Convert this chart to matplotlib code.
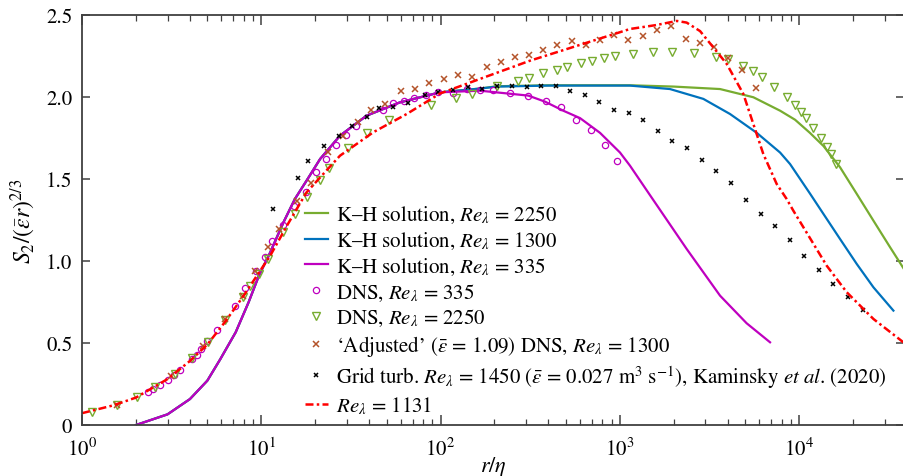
import matplotlib
matplotlib.use('Agg')
import matplotlib.pyplot as plt
from matplotlib.ticker import LogLocator, FuncFormatter, NullFormatter

plt.rcParams['font.family'] = 'STIXGeneral'
plt.rcParams['mathtext.fontset'] = 'stix'

# K-H solutions (shared low-r part)
kh_low_r = [2, 3, 4, 5, 5.9, 7.2, 8.5, 9.7, 11.2, 13.3, 15.4, 17.9, 21.3, 27.5, 38.7, 59.4, 99.4]
kh_low_s = [0.0, 0.065, 0.158, 0.27, 0.40, 0.565, 0.748, 0.91, 1.05, 1.235, 1.377, 1.489, 1.621, 1.763, 1.885, 1.966, 2.027]

kh2250_r = kh_low_r + [166, 206, 400, 1140, 2000, 3625, 5560, 7840, 9500, 11500, 13680, 16940, 20990, 26000, 32200, 38500]
kh2250_s = kh_low_s + [2.05, 2.064, 2.07, 2.07, 2.062, 2.047, 1.997, 1.915, 1.86, 1.78, 1.70, 1.57, 1.408, 1.245, 1.083, 0.95]

kh1300_r = kh_low_r + [166, 206, 400, 1140, 1906, 2925, 4120, 5810, 7840, 8910, 11510, 13680, 16940, 20990, 26000, 33600]
kh1300_s = kh_low_s + [2.05, 2.062, 2.068, 2.068, 2.047, 1.987, 1.895, 1.78, 1.66, 1.59, 1.41, 1.286, 1.133, 0.981, 0.839, 0.697]

kh335_r = kh_low_r + [166, 309, 383, 484, 600, 776, 1003, 1140, 1475, 2360, 3625, 5100, 6890]
kh335_s = kh_low_s + [2.037, 2.007, 1.97, 1.915, 1.87, 1.78, 1.66, 1.58, 1.40, 1.073, 0.788, 0.62, 0.504]

# DNS Re=335 (circles)
dns335_r = [2.33, 2.48, 2.71, 3.02, 3.25, 3.53, 4.11, 4.38, 4.61, 5.0, 5.66, 7.11, 8.15, 9.39, 10.45,
            11.5, 13.2, 15.2, 17.8, 20.2, 23, 26.1, 29.7, 33.8, 47.6, 54.1, 62.8, 71.4, 83, 97,
            118, 140, 165, 196, 244, 309, 388, 470, 570, 692, 829, 961]
dns335_s = [0.199, 0.219, 0.244, 0.274, 0.307, 0.337, 0.402, 0.427, 0.463, 0.51, 0.579, 0.727, 0.833, 0.937, 1.022,
            1.123, 1.221, 1.333, 1.422, 1.544, 1.621, 1.706, 1.767, 1.824, 1.92, 1.96, 1.973, 1.993, 2.013, 2.027,
            2.021, 2.047, 2.041, 2.041, 2.021, 2.007, 1.972, 1.94, 1.859, 1.798, 1.708, 1.61]

# DNS Re=2250 (triangles)
dns2250_r = [1.14, 1.57, 2.03, 2.56, 3.29, 4.11, 5.05, 6.31, 7.91, 8.69, 9.68, 10.9, 13.3, 15.4, 17.9,
             21.3, 24, 30.6, 38.7, 51.8, 88.5, 122, 149, 206, 272, 313, 375, 445, 505, 605, 703,
             817, 941, 1191, 1538, 1963, 2594, 3428, 4035, 4848, 5560, 6237, 7250, 8610, 9500,
             10250, 10900, 12020, 13270, 14270, 15100, 16080]
dns2250_s = [0.077, 0.124, 0.173, 0.233, 0.311, 0.406, 0.508, 0.64, 0.778, 0.849, 0.92, 1.012, 1.174, 1.286, 1.391,
             1.495, 1.564, 1.686, 1.779, 1.861, 1.95, 1.991, 2.017, 2.064, 2.098, 2.115, 2.145, 2.165, 2.183, 2.206, 2.22,
             2.234, 2.247, 2.261, 2.271, 2.271, 2.265, 2.244, 2.23, 2.19, 2.155, 2.119, 2.062, 1.997, 1.95,
             1.906, 1.873, 1.81, 1.747, 1.692, 1.651, 1.59]

# 'Adjusted' DNS Re=1300
adj_r = [1.57, 3.15, 4.71, 6.31, 7.91, 9.28, 10.9, 12.6, 15.8, 19, 23.5, 28.7, 34.5, 41, 49, 60.2, 72.1, 86.6,
         104, 125, 149, 181, 217, 261, 312, 375, 449, 540, 648, 776, 933, 1117, 1342, 1607, 1932,
         2335, 2805, 3355, 4000, 4830, 5755]
adj_s = [0.124, 0.30, 0.483, 0.646, 0.788, 0.94, 1.083, 1.194, 1.367, 1.475, 1.666, 1.759, 1.845, 1.921, 1.956, 2.033, 2.047, 2.082,
         2.108, 2.135, 2.118, 2.183, 2.21, 2.24, 2.257, 2.287, 2.317, 2.338, 2.316, 2.346, 2.377, 2.346, 2.372, 2.407, 2.433,
         2.352, 2.328, 2.305, 2.234, 2.165, 2.052]

# Grid turbulence, Kaminsky et al. (2020)
grid_r = [11.7, 16, 18.3, 22.5, 27.2, 32, 38.7, 45.6, 54.5, 65.6, 82, 97.3, 118, 143, 171, 206, 250, 303,
          364, 440, 528, 640, 769, 929, 1127, 1342, 1629, 1963, 2382, 2864, 3443, 4159, 5045, 6111,
          7350, 8910, 10710, 12930, 15540, 18850, 22650]
grid_s = [1.316, 1.503, 1.611, 1.698, 1.763, 1.824, 1.879, 1.932, 1.94, 1.96, 2.013, 2.027, 2.041, 2.058, 2.047, 2.068, 2.064, 2.058,
          2.064, 2.064, 2.037, 2.013, 1.966, 1.92, 1.901, 1.859, 1.79, 1.729, 1.688, 1.615, 1.546, 1.475, 1.373, 1.286,
          1.215, 1.13, 1.032, 0.945, 0.859, 0.778, 0.703]

# Re=1131 curve
re1131_r = [1, 1.5, 2, 3, 4, 5, 6.3, 8, 10, 11.2, 14, 17.9, 27.5, 42.2, 64.8, 99.4, 316, 1000, 1140, 1600,
            2080, 2360, 2805, 3330, 3950, 4890, 5560, 6320, 7500, 8530, 9290, 11000, 14260, 18450, 26000, 38200]
re1131_s = [0.072, 0.12, 0.167, 0.28, 0.39, 0.49, 0.63, 0.79, 0.95, 1.03, 1.22, 1.418, 1.641, 1.784, 1.895, 2.02, 2.22, 2.393, 2.413, 2.437,
            2.462, 2.452, 2.40, 2.30, 2.20, 2.017, 1.834, 1.651, 1.469, 1.377, 1.306, 1.174, 0.971, 0.809, 0.646, 0.504]

green = '#77AC30'
blue = '#0072BD'
magenta = '#BF00BF'
brown = '#B4532A'

fig = plt.figure(figsize=(9.04, 4.77), dpi=100)
ax = fig.add_axes([82 / 904, 1 - 426 / 477, 822 / 904, 410.3 / 477])

ax.plot(kh2250_r, kh2250_s, color=green, lw=1.6, label=r'K–H solution, $Re_\lambda$ = 2250')
ax.plot(kh1300_r, kh1300_s, color=blue, lw=1.6, label=r'K–H solution, $Re_\lambda$ = 1300')
ax.plot(kh335_r, kh335_s, color=magenta, lw=1.6, label=r'K–H solution, $Re_\lambda$ = 335')
ax.plot(dns335_r, dns335_s, ls='none', marker='o', ms=4.5, mfc='none', mec=magenta, mew=0.9,
        label=r'DNS, $Re_\lambda$ = 335')
ax.plot(dns2250_r, dns2250_s, ls='none', marker='v', ms=5.5, mfc='none', mec=green, mew=1.0,
        label=r'DNS, $Re_\lambda$ = 2250')
ax.plot(adj_r, adj_s, ls='none', marker='x', ms=5, mec=brown, mew=1.1,
        label=r'‘Adjusted’ ($\bar{\epsilon}$ = 1.09) DNS, $Re_\lambda$ = 1300')
ax.plot(grid_r, grid_s, ls='none', marker='x', ms=3, mec='black', mew=1.1,
        label=r'Grid turb. $Re_\lambda$ = 1450 ($\bar{\epsilon}$ = 0.027 m$^3$ s$^{-1}$), Kaminsky $et\ al$. (2020)')
ax.plot(re1131_r, re1131_s, color='red', lw=1.8, ls=(0, (3.2, 1.3, 1, 1.3)), label=r'$Re_\lambda$ = 1131')

ax.set_xscale('log')
ax.set_xlim(1, 3.85e4)
ax.set_ylim(0, 2.5)
ax.set_yticks([0, 0.5, 1.0, 1.5, 2.0, 2.5])
ax.yaxis.set_major_formatter(FuncFormatter(lambda v, p: '0' if v == 0 else '%.1f' % v))
ax.xaxis.set_minor_locator(LogLocator(base=10, subs=range(2, 10), numticks=20))
ax.xaxis.set_minor_formatter(NullFormatter())

for s in ax.spines.values():
    s.set_color('#404040')
    s.set_linewidth(1.3)
ax.tick_params(which='both', direction='in', top=True, right=True, color='#404040', labelsize=15)
ax.tick_params(axis='x', which='major', length=7, width=1.1, pad=9)
ax.tick_params(axis='x', which='minor', length=4, width=0.9)
ax.tick_params(axis='y', which='major', length=6, width=1.1, pad=7)

ax.set_xlabel(r'$r/\eta$', fontsize=16)
ax.xaxis.set_label_coords(0.5, -0.07)
ax.set_ylabel(r'$S_2/(\bar{\epsilon}r)^{2/3}$', fontsize=17, labelpad=6)

ax.legend(loc='upper left', bbox_to_anchor=(305 / 904, 1 - 205 / 477), bbox_transform=fig.transFigure,
          frameon=False, fontsize=15, handlelength=1.1, handletextpad=0.4, labelspacing=0.23,
          borderpad=0, borderaxespad=0, numpoints=1)

fig.savefig('out.png', dpi=100)
